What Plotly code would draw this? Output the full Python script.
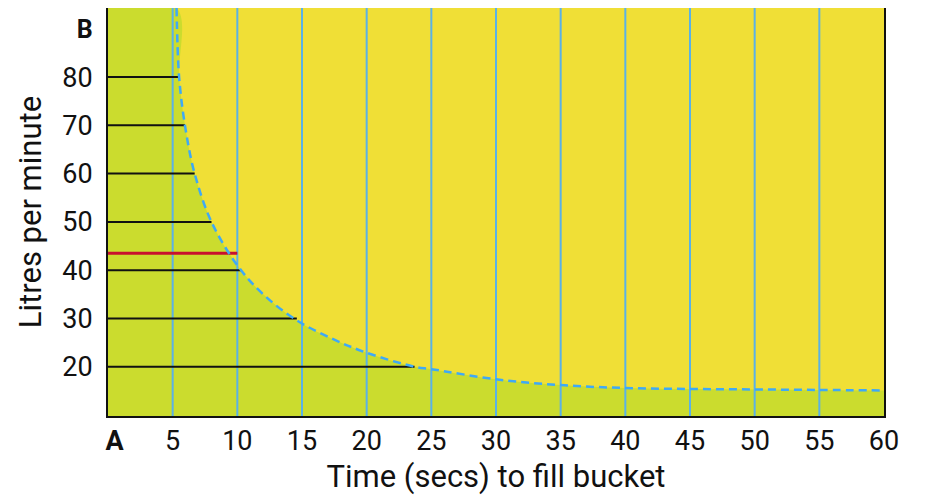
import plotly.graph_objects as go

# 곡선 (채우는 시간 vs 분당 리터)
curve_x = [5.3, 5.5, 5.95, 6.7, 8.0, 10, 12, 14.6, 17.5, 20, 23.7, 25, 30, 35, 40, 45, 50, 55, 60]
curve_y = [94.3, 80, 70, 60, 50, 41, 35, 29.6, 25.6, 22.9, 20, 19.5, 17.4, 16.2, 15.6, 15.4, 15.3, 15.2, 15.1]

# 가로 기준선 (왼쪽에서 곡선까지)
ref_y = [20, 30, 40, 50, 60, 70, 80]
ref_end_x = [23.7, 14.6, 10.3, 8.0, 6.7, 5.95, 5.5]

# 빨간 표시선
red_y = 43.5
red_end_x = 10

# 세로 눈금선
vert_x = [5, 10, 15, 20, 25, 30, 35, 40, 45, 50, 55]

x_ticks = [0.5, 5, 10, 15, 20, 25, 30, 35, 40, 45, 50, 55, 60]
x_ticktext = ['<b>A</b>', '5', '10', '15', '20', '25', '30', '35', '40', '45', '50', '55', '60']
y_ticks = [20, 30, 40, 50, 60, 70, 80, 90]
y_ticktext = ['20', '30', '40', '50', '60', '70', '80', '<span style="font-size:25px"><b>B</b></span>']

x_range = [0, 60]
y_range = [9.8, 94.3]

GREEN = '#CBDC2E'
YELLOW = '#F0DF36'
BLUE = '#5AB2E6'

fig = go.Figure()

# 곡선 아래 초록 영역
fig.add_trace(go.Scatter(
    x=[x_range[0]] + curve_x, y=[y_range[1]] + curve_y,
    fill='tozeroy', fillcolor=GREEN, mode='lines',
    line=dict(width=0, shape='spline'), hoverinfo='skip'))

# 세로선
vx, vy = [], []
for v in vert_x:
    vx += [v, v, None]
    vy += [y_range[0], y_range[1], None]
fig.add_trace(go.Scatter(x=vx, y=vy, mode='lines',
                         line=dict(color=BLUE, width=2), hoverinfo='skip'))

# 가로 검은 선
hx, hy = [], []
for yv, xe in zip(ref_y, ref_end_x):
    hx += [x_range[0], xe, None]
    hy += [yv, yv, None]
fig.add_trace(go.Scatter(x=hx, y=hy, mode='lines',
                         line=dict(color='#111111', width=2), hoverinfo='skip'))

# 빨간 선
fig.add_trace(go.Scatter(x=[x_range[0], red_end_x], y=[red_y, red_y], mode='lines',
                         line=dict(color='#C8102E', width=3), hoverinfo='skip'))

# 점선 곡선
fig.add_trace(go.Scatter(x=curve_x, y=curve_y, mode='lines',
                         line=dict(color='#3FA9F5', width=2.5, dash='8px,5px', shape='spline'),
                         hoverinfo='skip'))

fig.update_layout(
    width=918, height=487,
    margin=dict(l=100, r=42, t=0, b=79),
    plot_bgcolor=YELLOW, paper_bgcolor='white',
    showlegend=False,
    font=dict(family='Roboto', size=26, color='#111111'),
)
fig.update_xaxes(range=x_range, tickvals=x_ticks, ticktext=x_ticktext,
                 showgrid=False, zeroline=False, showline=True, linecolor='#111111',
                 linewidth=2, mirror=True, ticks='', ticklabelstandoff=0,
                 automargin=False, tickfont=dict(size=27),
                 title=dict(text='Time (secs) to fill bucket', standoff=12))
fig.update_yaxes(range=y_range, tickvals=y_ticks, ticktext=y_ticktext,
                 showgrid=False, zeroline=False, showline=True, linecolor='#111111',
                 linewidth=2, mirror=True, ticks='', ticklabelstandoff=8,
                 automargin=False, tickfont=dict(size=27),
                 title=dict(text='Litres per minute', standoff=11))

fig.write_html("out.html")
